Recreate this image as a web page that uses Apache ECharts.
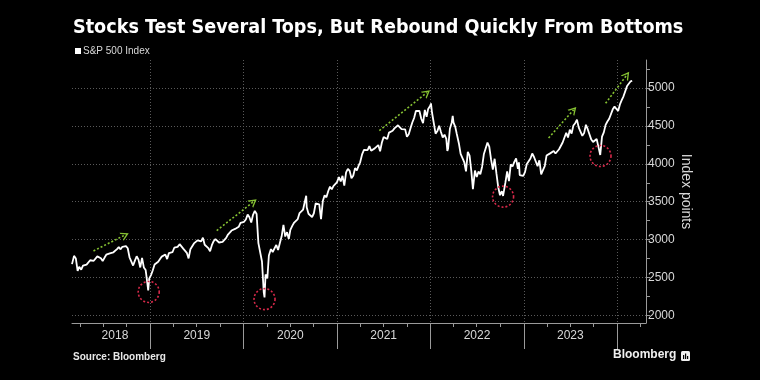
<!DOCTYPE html>
<html><head><meta charset="utf-8">
<script src="https://cdn.jsdelivr.net/npm/echarts@6/dist/echarts.min.js"></script>
<style>html,body{margin:0;padding:0;background:#000;}#c{width:760px;height:380px;}</style>
</head><body><div id="c"></div>
<script>
const chartTitle = 'Stocks Test Several Tops, But Rebound Quickly From Bottoms';
const seriesName = 'S&P 500 Index';
const yAxisName = 'Index points';
const sourceText = 'Source: Bloomberg';

const dates2018 = ['2018-03-01','2018-03-09','2018-03-16','2018-03-23','2018-03-29','2018-04-06','2018-04-13','2018-04-20','2018-04-27','2018-05-04','2018-05-11','2018-05-18','2018-05-25','2018-06-01','2018-06-08','2018-06-15','2018-06-22','2018-06-29','2018-07-06','2018-07-13','2018-07-20','2018-07-27','2018-08-03','2018-08-10','2018-08-17','2018-08-24','2018-08-31','2018-09-07','2018-09-14','2018-09-21','2018-09-28','2018-10-05','2018-10-12','2018-10-19','2018-10-26','2018-11-02','2018-11-09','2018-11-16','2018-11-23','2018-11-30','2018-12-07','2018-12-14','2018-12-21','2018-12-24','2018-12-28'];
const close2018 = [2677,2786,2752,2588,2641,2604,2656,2670,2670,2663,2728,2713,2721,2735,2779,2780,2755,2718,2760,2801,2802,2819,2840,2833,2850,2875,2902,2872,2905,2930,2914,2886,2767,2768,2658,2723,2781,2736,2633,2760,2633,2600,2417,2330,2486];

const dates2019 = ['2019-01-04','2019-01-11','2019-01-18','2019-01-25','2019-02-01','2019-02-08','2019-02-15','2019-02-22','2019-03-01','2019-03-08','2019-03-15','2019-03-22','2019-03-29','2019-04-05','2019-04-12','2019-04-18','2019-04-26','2019-05-03','2019-05-10','2019-05-17','2019-05-24','2019-05-31','2019-06-07','2019-06-14','2019-06-21','2019-06-28','2019-07-05','2019-07-12','2019-07-19','2019-07-26','2019-08-02','2019-08-09','2019-08-16','2019-08-23','2019-08-30','2019-09-06','2019-09-13','2019-09-20','2019-09-27','2019-10-04','2019-10-11','2019-10-18','2019-10-25','2019-11-01','2019-11-08','2019-11-15','2019-11-22','2019-11-29','2019-12-06','2019-12-13','2019-12-20','2019-12-27'];
const close2019 = [2532,2596,2671,2665,2707,2708,2776,2793,2804,2743,2822,2801,2834,2893,2907,2905,2940,2946,2881,2860,2826,2752,2873,2887,2950,2942,2990,3014,2977,3026,2932,2919,2889,2847,2926,2979,3007,2992,2962,2952,2970,2986,3023,3067,3093,3120,3110,3141,3146,3169,3221,3240];

const dates2020 = ['2020-01-03','2020-01-10','2020-01-17','2020-01-24','2020-01-31','2020-02-07','2020-02-14','2020-02-19','2020-02-21','2020-02-28','2020-03-06','2020-03-13','2020-03-20','2020-03-23','2020-03-27','2020-04-03','2020-04-09','2020-04-17','2020-04-24','2020-05-01','2020-05-08','2020-05-15','2020-05-22','2020-05-29','2020-06-05','2020-06-12','2020-06-19','2020-06-26','2020-07-02','2020-07-10','2020-07-17','2020-07-24','2020-07-31','2020-08-07','2020-08-14','2020-08-21','2020-08-28','2020-09-02','2020-09-04','2020-09-11','2020-09-18','2020-09-25','2020-10-02','2020-10-09','2020-10-16','2020-10-23','2020-10-30','2020-11-06','2020-11-13','2020-11-20','2020-11-27','2020-12-04','2020-12-11','2020-12-18','2020-12-24','2020-12-31'];
const close2020 = [3235,3265,3330,3295,3226,3328,3380,3386,3338,2954,2972,2711,2305,2237,2541,2489,2790,2875,2837,2831,2930,2864,2955,3044,3194,3041,3098,3009,3130,3185,3225,3216,3271,3351,3373,3397,3508,3580,3427,3341,3319,3298,3348,3477,3484,3465,3270,3509,3585,3558,3638,3699,3663,3709,3703,3756];

const dates2021 = ['2021-01-08','2021-01-15','2021-01-22','2021-01-29','2021-02-05','2021-02-12','2021-02-19','2021-02-26','2021-03-05','2021-03-12','2021-03-19','2021-03-26','2021-04-01','2021-04-09','2021-04-16','2021-04-23','2021-04-30','2021-05-07','2021-05-14','2021-05-21','2021-05-28','2021-06-04','2021-06-11','2021-06-18','2021-06-25','2021-07-02','2021-07-09','2021-07-16','2021-07-23','2021-07-30','2021-08-06','2021-08-13','2021-08-20','2021-08-27','2021-09-03','2021-09-10','2021-09-17','2021-09-24','2021-10-01','2021-10-08','2021-10-15','2021-10-22','2021-10-29','2021-11-05','2021-11-12','2021-11-19','2021-11-26','2021-12-03','2021-12-10','2021-12-17','2021-12-23','2021-12-31'];
const close2021 = [3825,3768,3841,3714,3887,3934,3907,3811,3842,3943,3913,3975,4020,4129,4185,4180,4181,4233,4174,4156,4204,4230,4247,4166,4281,4352,4370,4327,4412,4395,4437,4468,4442,4509,4535,4459,4433,4455,4357,4391,4471,4545,4605,4697,4682,4698,4595,4538,4712,4621,4725,4766];

const dates2022 = ['2022-01-03','2022-01-07','2022-01-14','2022-01-21','2022-01-28','2022-02-04','2022-02-11','2022-02-18','2022-02-25','2022-03-04','2022-03-08','2022-03-11','2022-03-18','2022-03-25','2022-03-29','2022-04-01','2022-04-08','2022-04-14','2022-04-22','2022-04-29','2022-05-06','2022-05-13','2022-05-20','2022-05-27','2022-06-03','2022-06-10','2022-06-16','2022-06-17','2022-06-24','2022-07-01','2022-07-08','2022-07-15','2022-07-22','2022-07-29','2022-08-05','2022-08-12','2022-08-16','2022-08-19','2022-08-26','2022-09-02','2022-09-09','2022-09-16','2022-09-23','2022-09-30','2022-10-07','2022-10-12','2022-10-14','2022-10-21','2022-10-28','2022-11-04','2022-11-11','2022-11-18','2022-11-25','2022-12-02','2022-12-09','2022-12-13','2022-12-16','2022-12-23','2022-12-30'];
const close2022 = [4797,4677,4663,4398,4432,4501,4419,4349,4385,4329,4171,4204,4463,4543,4632,4546,4488,4393,4272,4132,4123,4024,3901,4158,4109,3901,3667,3675,3912,3825,3899,3863,3962,4130,4145,4280,4305,4228,4058,3924,4067,3873,3693,3586,3640,3577,3583,3752,3901,3771,3993,3965,4026,4072,3934,4019,3852,3845,3840];

const dates2023 = ['2023-01-06','2023-01-13','2023-01-20','2023-01-27','2023-02-03','2023-02-10','2023-02-17','2023-02-24','2023-03-03','2023-03-10','2023-03-17','2023-03-24','2023-03-31','2023-04-06','2023-04-14','2023-04-21','2023-04-28','2023-05-05','2023-05-12','2023-05-19','2023-05-26','2023-06-02','2023-06-09','2023-06-16','2023-06-23','2023-06-30','2023-07-07','2023-07-14','2023-07-21','2023-07-28','2023-07-31','2023-08-04','2023-08-11','2023-08-18','2023-08-25','2023-09-01','2023-09-08','2023-09-15','2023-09-22','2023-09-29','2023-10-06','2023-10-13','2023-10-20','2023-10-27','2023-11-03','2023-11-10','2023-11-17','2023-11-24','2023-12-01','2023-12-08','2023-12-15','2023-12-22','2023-12-29'];
const close2023 = [3895,3999,3973,4071,4136,4090,4079,3970,4046,3862,3917,3971,4109,4105,4138,4133,4169,4136,4124,4192,4205,4282,4299,4410,4348,4450,4399,4505,4536,4582,4589,4478,4464,4370,4406,4516,4457,4450,4320,4288,4308,4328,4224,4117,4358,4415,4514,4559,4595,4604,4719,4755,4770];

const dates2024 = ['2024-01-05','2024-01-12','2024-01-19','2024-01-26','2024-02-02','2024-02-09','2024-02-16','2024-02-23','2024-02-29'];
const close2024 = [4697,4784,4840,4891,4959,5027,5006,5089,5096];

const yLabelValues = [2000,2500,3000,3500,4000,4500,5000];
const yTickValues = [2000,2250,2500,2750,3000,3250,3500,3750,4000,4250,4500,4750,5000,5250];
const yearStarts = ['2019-01-01','2020-01-01','2021-01-01','2022-01-01','2023-01-01','2024-01-01'];
const quarterStarts = ['2018-04-01','2018-07-01','2018-10-01','2019-01-01','2019-04-01','2019-07-01','2019-10-01','2020-01-01','2020-04-01','2020-07-01','2020-10-01','2021-01-01','2021-04-01','2021-07-01','2021-10-01','2022-01-01','2022-04-01','2022-07-01','2022-10-01','2023-01-01','2023-04-01','2023-07-01','2023-10-01','2024-01-01','2024-04-01'];
const yearLabelDates = ['2018-08-16','2019-07-02','2020-07-02','2021-07-02','2022-07-02','2023-07-02'];
const xMin = '2018-03-01';
const xMax = '2024-04-23';

const arrowStart = [['2018-05-24',2851],['2019-09-18',3119],['2021-06-15',4438],['2023-04-08',4342],['2023-11-17',4799]];
const arrowEnd   = [['2018-09-25',3062],['2020-02-09',3501],['2021-12-18',4939],['2023-07-15',4712],['2024-02-08',5172]];
const bottomCircles = [['2018-12-26',2310],['2020-03-23',2215],['2022-10-12',3567],['2023-10-28',4104]];

const ts = s => Date.parse(s + 'T00:00:00Z');
const allDates = [].concat(dates2018, dates2019, dates2020, dates2021, dates2022, dates2023, dates2024);
const allClose = [].concat(close2018, close2019, close2020, close2021, close2022, close2023, close2024);
const seriesData = allDates.map((d, i) => [ts(d), allClose[i]]);

const labelFont = 'Liberation Sans';
const chart = echarts.init(document.getElementById('c'), null, {renderer: 'canvas'});
chart.setOption({
  backgroundColor: '#000',
  animation: false,
  title: {
    text: chartTitle, left: 73, top: 18, padding: 0,
    textStyle: {color: '#fff', fontSize: 19.6, fontWeight: 'bold', fontFamily: 'DejaVu Sans Condensed'}
  },
  legend: {
    data: [{name: seriesName, icon: 'rect'}], left: 75, top: 46, padding: 0,
    itemWidth: 6, itemHeight: 6, itemGap: 4,
    textStyle: {color: '#d8d8d8', fontSize: 10, fontFamily: labelFont, padding: [0,0,0,-3]}
  },
  grid: {left: 72, right: 114, top: 60, bottom: 57, containLabel: false},
  xAxis: [{
    type: 'value', min: ts(xMin), max: ts(xMax), position: 'bottom',
    axisLine: {show: true, onZero: false, lineStyle: {color: '#9a9a9a', width: 1}},
    axisTick: {show: true, length: 4, lineStyle: {color: '#9a9a9a'}, customValues: quarterStarts.map(ts)},
    axisLabel: {
      customValues: yearLabelDates.map(ts), color: '#d8d8d8', fontSize: 12, fontFamily: labelFont, margin: 7,
      formatter: v => String(new Date(v).getUTCFullYear())
    },
    splitLine: {show: false}
  }, {
    type: 'value', min: ts(xMin), max: ts(xMax), position: 'bottom',
    axisLine: {show: false, onZero: false},
    axisTick: {show: true, length: 26, lineStyle: {color: '#9a9a9a'}, customValues: yearStarts.map(ts)},
    axisLabel: {show: false},
    splitLine: {show: true, lineStyle: {color: '#5a5a5a', type: [1, 2], width: 1}}
  }],
  yAxis: [{
    type: 'value', position: 'right', min: 1900, max: 5370,
    name: yAxisName, nameLocation: 'middle', nameRotate: -90, nameGap: 33, nameMoveOverlap: false,
    nameTextStyle: {color: '#d8d8d8', fontSize: 14, fontFamily: labelFont},
    axisLine: {show: true, onZero: false, lineStyle: {color: '#9a9a9a'}},
    axisTick: {show: true, length: 4, lineStyle: {color: '#9a9a9a'}, customValues: yTickValues},
    axisLabel: {customValues: yLabelValues, color: '#d8d8d8', fontSize: 12, fontFamily: labelFont, margin: 2,
      formatter: v => String(v)},
    splitLine: {show: false}
  }, {
    type: 'value', position: 'right', min: 1900, max: 5370,
    axisLine: {show: false, onZero: false}, axisLabel: {show: false},
    axisTick: {show: false, customValues: yLabelValues},
    splitLine: {show: true, lineStyle: {color: '#5a5a5a', type: [1, 2], width: 1}}
  }],
  series: [{
    name: seriesName, type: 'line', xAxisIndex: 0, yAxisIndex: 0,
    data: seriesData, showSymbol: false, symbol: 'none',
    lineStyle: {color: '#ffffff', width: 1.8}, itemStyle: {color: '#ffffff'},
    emphasis: {disabled: true},
    markLine: {
      silent: true, animation: false,
      symbol: ['none', 'path://M5,0 L10,9 L8.4,9 L5,3.2 L1.6,9 L0,9 Z'], symbolSize: [9, 8],
      label: {show: false},
      lineStyle: {color: '#86c232', type: [2, 2], width: 1.6},
      data: arrowStart.map((s, i) => [{coord: [ts(s[0]), s[1]]}, {coord: [ts(arrowEnd[i][0]), arrowEnd[i][1]]}])
    },
    markPoint: {
      silent: true, animation: false,
      symbol: 'circle', symbolSize: 21,
      label: {show: false},
      itemStyle: {color: 'rgba(0,0,0,0)', borderColor: '#d8294a', borderWidth: 1.6, borderType: [2, 2]},
      data: bottomCircles.map(c => ({coord: [ts(c[0]), c[1]]}))
    }
  }],
  graphic: [
    {type: 'text', left: 73, top: 352, style: {text: sourceText, fill: '#e8e8e8', font: 'bold 10px "Liberation Sans"'}},
    {type: 'text', left: 613, top: 349, style: {text: 'Bloomberg', fill: '#f0f0f0', font: 'bold 12px "Liberation Sans"'}},
    {type: 'group', left: 681, top: 351, children: [
      {type: 'rect', shape: {x: 0, y: 0, width: 9, height: 10, r: 1.5}, style: {fill: '#f0f0f0'}},
      {type: 'rect', shape: {x: 2, y: 4, width: 1.2, height: 4}, style: {fill: '#000'}},
      {type: 'rect', shape: {x: 4, y: 2.5, width: 1.2, height: 5.5}, style: {fill: '#000'}},
      {type: 'rect', shape: {x: 6, y: 5, width: 1.2, height: 3}, style: {fill: '#000'}}
    ]}
  ]
});
</script>
</body></html>
